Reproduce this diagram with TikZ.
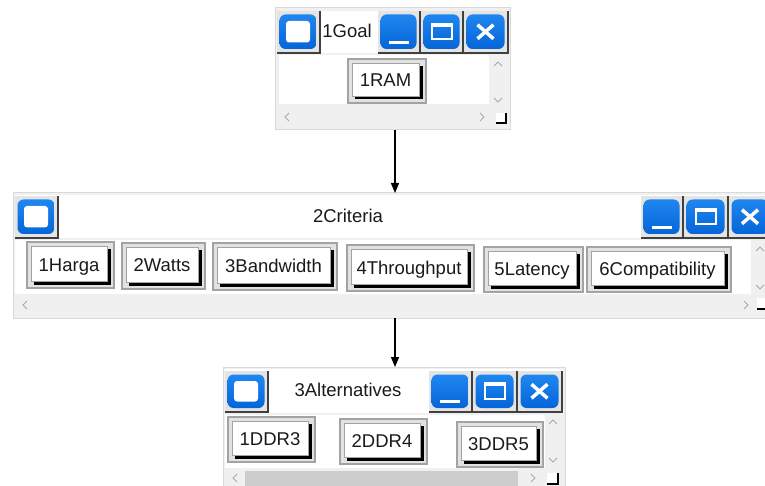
\documentclass[tikz,border=0pt]{standalone}
\usepackage{fontspec}
\setmainfont{Liberation Sans}
\usetikzlibrary{arrows.meta,fit,calc}
\definecolor{winbg}{HTML}{F0F0F0}
\definecolor{winborder}{HTML}{D9D9D9}
\definecolor{chev}{HTML}{A8A8A8}
\definecolor{bluetop}{HTML}{1F86F0}
\definecolor{bluebot}{HTML}{0565D8}
\definecolor{tbfill}{HTML}{E4E4E4}
\definecolor{tbdark}{HTML}{404040}
\definecolor{cbframe}{HTML}{E2E2E2}
\definecolor{cbedge}{HTML}{A3A3A3}
\definecolor{thumb}{HTML}{CDCDCD}
\definecolor{txt}{HTML}{1A1A1A}
\tikzset{
 every node/.style={inner sep=0pt, outer sep=0pt},
 win/.style={fill=winbg, draw=winborder, line width=1pt},
 whitearea/.style={fill=white, draw=none},
 tframe/.style={fill=tbfill, draw=none},
 tdark/.style={draw=tbdark, line width=1.2pt},
 tblue/.style={top color=bluetop, bottom color=bluebot, draw=none, rounded corners=6pt},
 cframe/.style={fill=cbframe, draw=cbedge, line width=1.2pt},
 cface/.style={fill=white, draw=cbedge, line width=0.6pt},
 ttl/.style={font=\fontsize{18.5}{20}\selectfont, text=txt, anchor=base},
 chevron/.style={draw=chev, line width=1pt},
 arr/.style={-{Triangle[length=10pt,width=8pt]}, line width=1.3pt, black},
}
% title-bar button: frame + blue face
\newcommand\tbf[5]{%
  \node[tframe, fit={(#2,#3) (#4,#5)}] (#1) {};
  \draw[tdark] (#1.north east) -- (#1.south east) -- (#1.south west);
  \node[tblue, fit={(#2+2.5,#3+3.5) (#4-3.5,#5-4)}] (#1b) {};
}
\newcommand\gicon[1]{%
  \node[fill=white, rounded corners=3pt, fit={([shift={(6.5pt,-6.5pt)}]#1b.north west) ([shift={(-6.5pt,6.5pt)}]#1b.south east)}] (#1g) {};}
\newcommand\gmin[1]{%
  \fill[white] ([shift={(-10pt,-9pt)}]#1b.center) rectangle ([shift={(10pt,-12pt)}]#1b.center);}
\newcommand\gmax[1]{%
  \draw[white, line width=2pt] ([shift={(-10pt,-7.5pt)}]#1b.center) rectangle ([shift={(10pt,8pt)}]#1b.center);
  \fill[white] ([shift={(-11pt,9pt)}]#1b.center) rectangle ([shift={(11pt,5pt)}]#1b.center);}
\newcommand\gclose[1]{%
  \draw[white, line width=3.5pt] ([shift={(-8pt,-7pt)}]#1b.center) -- ([shift={(8pt,7pt)}]#1b.center);
  \draw[white, line width=3.5pt] ([shift={(-8pt,7pt)}]#1b.center) -- ([shift={(8pt,-7pt)}]#1b.center);}
% content button
\newcommand\cb[6]{%
  \node[cframe, fit={(#2,#3) (#4,#5)}] (#1f) {};
  \fill[black] (#2+7,#3+7) rectangle (#4-3.5,#5-3.5);
  \node[cface, fit={(#2+4,#3+4) (#4-7,#5-7)}] (#1) {};
  \node[ttl] (#1t) at ([yshift=-7.5pt]#1.center) {#6};
}
% scroll chevrons
\newcommand\chl[2]{\draw[chevron] (#1+2,#2-4) -- (#1-2,#2) -- (#1+2,#2+4);}
\newcommand\chr[2]{\draw[chevron] (#1-2,#2-4) -- (#1+2,#2) -- (#1-2,#2+4);}
\newcommand\chu[2]{\draw[chevron] (#1-4,#2+2) -- (#1,#2-2) -- (#1+4,#2+2);}
\newcommand\chd[2]{\draw[chevron] (#1-4,#2-2) -- (#1,#2+2) -- (#1+4,#2-2);}
\newcommand\rsz[4]{%
  \fill[white] (#1,#2) rectangle (#3,#4);
  \draw[black, line width=2pt] (#1,#4-1) -- (#3-1,#4-1) -- (#3-1,#2);}
\begin{document}
\begin{tikzpicture}[x=1pt,y=-1pt]
\useasboundingbox (0,0) rectangle (765,486);
\clip (0,0) rectangle (765,486);
\fill[white] (0,0) rectangle (765,486);

% ---------- Window 1: Goal ----------
\node[win, fit={(275,8) (510,130)}] (w1) {};
\node[whitearea, fit={(277,11) (508,53)}] (w1title) {};
\node[whitearea, fit={(279,55) (489,104)}] (w1body) {};
\tbf{w1i}{277}{11}{320}{53}\gicon{w1i}
\tbf{w1n}{378}{11}{420}{53}\gmin{w1n}
\tbf{w1x}{421}{11}{463}{53}\gmax{w1x}
\tbf{w1c}{464}{11}{508}{53}\gclose{w1c}
\node[ttl] (w1t) at (347,37.6) {1Goal};
\cb{ram}{348}{59}{426}{103}{1RAM}
\chu{498}{64}\chd{498}{100}\chl{287}{117}\chr{482}{117}
\rsz{496}{113}{507}{124}

% ---------- Window 2: Criteria ----------
\node[win, fit={(13,193) (777,318)}] (w2) {};
\node[whitearea, fit={(15,195) (777,238)}] (w2title) {};
\node[whitearea, fit={(15,240) (751,294)}] (w2body) {};
\tbf{w2i}{15}{196}{58}{238}\gicon{w2i}
\tbf{w2n}{641}{196}{683}{238}\gmin{w2n}
\tbf{w2x}{684}{196}{728}{238}\gmax{w2x}
\tbf{w2c}{729}{196}{772}{238}\gclose{w2c}
\node[ttl] (w2t) at (348,222.6) {2Criteria};
\cb{c1}{27}{242}{114}{288}{1Harga}
\cb{c2}{122}{243}{205}{289}{2Watts}
\cb{c3}{213}{243}{337}{290}{3Bandwidth}
\cb{c4}{347}{245}{474}{291}{4Throughput}
\cb{c5}{484}{247}{583}{292}{5Latency}
\cb{c6}{587}{247}{731}{292}{6Compatibility}
\chu{760}{249}\chd{760}{287}\chl{25}{305}\chr{746}{305}
\rsz{757}{298}{769}{310}

% ---------- Window 3: Alternatives ----------
\node[win, fit={(223,367) (565,495)}] (w3) {};
\node[whitearea, fit={(225,369) (563,413)}] (w3title) {};
\node[whitearea, fit={(225,415) (545,468)}] (w3body) {};
\fill[thumb] (245,471) rectangle (518,490);
\tbf{w3i}{225}{371}{268}{412}\gicon{w3i}
\tbf{w3n}{429}{371}{472}{412}\gmin{w3n}
\tbf{w3x}{473}{371}{517}{412}\gmax{w3x}
\tbf{w3c}{518}{371}{562}{412}\gclose{w3c}
\node[ttl] (w3t) at (348,396.6) {3Alternatives};
\cb{a1}{228}{417}{315}{462}{1DDR3}
\cb{a2}{340}{419}{427}{464}{2DDR4}
\cb{a3}{457}{422}{543}{467}{3DDR5}
\chu{553}{422}\chd{553}{460}\chl{235}{478}\chr{533}{478}
\rsz{547}{473}{559}{485}

% ---------- connectors ----------
\draw[arr] (w1.south -| w2.north) -- (w2.north);
\draw[arr] (w2.south) -- (w3.north -| w2.south);
\end{tikzpicture}
\end{document}
